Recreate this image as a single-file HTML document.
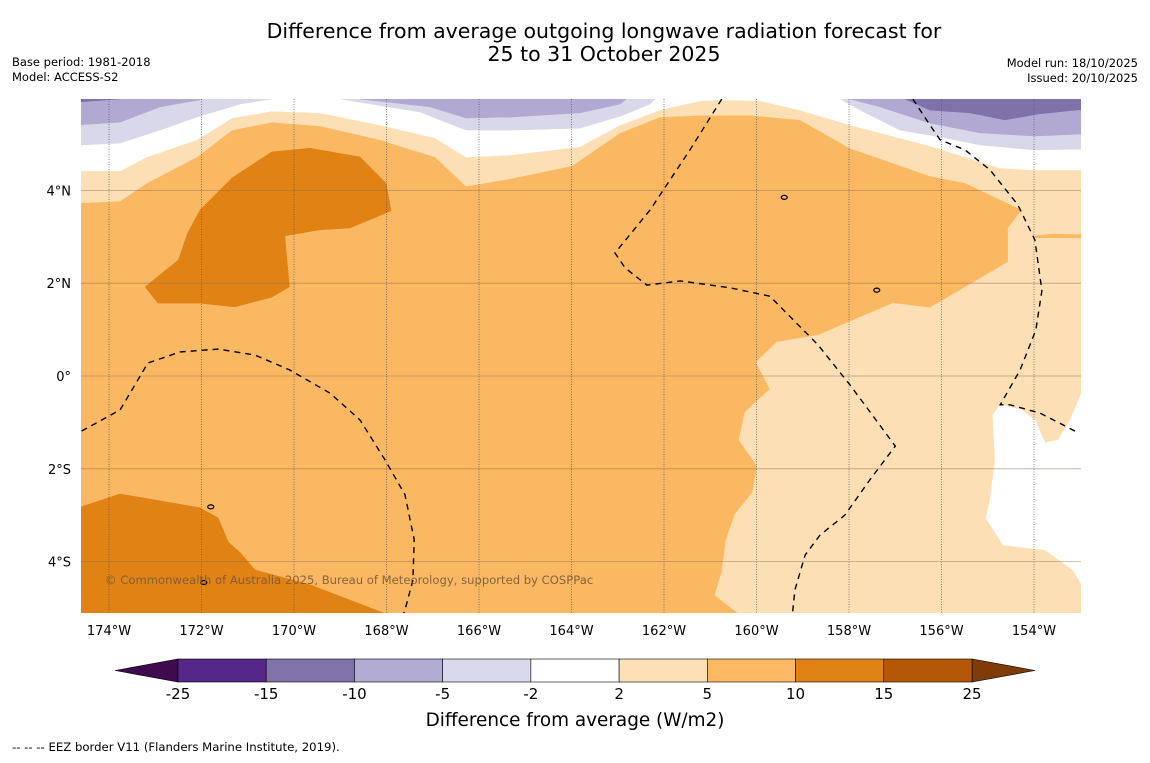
<!DOCTYPE html>
<html><head><meta charset="utf-8"><style>
body{margin:0;background:#fff;width:1150px;height:758px;overflow:hidden;font-family:"Liberation Sans","DejaVu Sans",sans-serif;}
svg text{font-family:"DejaVu Sans","Liberation Sans",sans-serif;}
</style></head><body>
<svg id="chart" width="1150" height="758" viewBox="0 0 1150 758" xmlns="http://www.w3.org/2000/svg">
<rect width="1150" height="758" fill="#fff"/>
<text x="604" y="38" font-size="20.5" text-anchor="middle">Difference from average outgoing longwave radiation forecast for</text>
<text x="604" y="61" font-size="20.5" text-anchor="middle">25 to 31 October 2025</text>
<text x="12" y="66" font-size="11.5">Base period: 1981-2018</text>
<text x="12" y="81" font-size="11.5">Model: ACCESS-S2</text>
<text x="1138" y="67" font-size="11.5" text-anchor="end">Model run: 18/10/2025</text>
<text x="1138" y="82" font-size="11.5" text-anchor="end">Issued: 20/10/2025</text>
<defs><clipPath id="mapclip"><rect x="81" y="99" width="1000" height="514"/></clipPath></defs>
<g id="map" clip-path="url(#mapclip)"></g>
<g id="axes"></g>
<g id="cbar"></g>
<text x="575" y="726" font-size="18.4" text-anchor="middle">Difference from average (W/m2)</text>
<text x="12" y="751" font-size="11.7">--  --  -- EEZ border V11 (Flanders Marine Institute, 2019).</text>
</svg>
<script>
const lonTicks=[-174,-172,-170,-168,-166,-164,-162,-160,-158,-156,-154];
const latTicks=[4,2,0,-2,-4];
const lonLabels=['174°W','172°W','170°W','168°W','166°W','164°W','162°W','160°W','158°W','156°W','154°W'];
const latLabels=['4°N','2°N','0°','2°S','4°S'];
const cbLevels=[-25,-15,-10,-5,-2,2,5,10,15,25];
const cbColors=['#542788','#8073ac','#b2abd2','#d8daeb','#ffffff','#fee0b6','#fdb863','#e08214','#b35806'];
const peachRegion=[[-175,6.2],[-175,3.73],[-174.6,3.73],[-173.76,3.77],[-173.18,4.16],[-172.1,4.72],[-171.34,5.3],[-170.48,5.47],[-169.44,5.39],[-168.14,5.09],[-166.95,4.72],[-166.28,4.09],[-165.33,4.25],[-163.99,4.53],[-163.71,4.72],[-162.95,5.24],[-162.09,5.58],[-161.22,5.62],[-160.14,5.62],[-159.06,5.52],[-157.98,4.91],[-156.25,4.31],[-155.49,4.16],[-154.26,3.58],[-154.56,3.19],[-154.56,2.46],[-156.25,1.47],[-157.05,1.57],[-158.67,0.88],[-159.56,0.73],[-160.01,0.3],[-159.71,-0.28],[-160.25,-0.78],[-160.38,-1.38],[-159.99,-1.94],[-160.08,-2.5],[-160.46,-2.97],[-160.66,-3.53],[-160.75,-4.22],[-160.9,-4.72],[-160.29,-5.2],[-152,-5.2],[-152,6.2]];
const whiteTop=[[-175,6.2],[-175,4.42],[-173.76,4.42],[-173.18,4.72],[-172.1,5.09],[-171.34,5.56],[-170.48,5.71],[-169.44,5.67],[-168.14,5.41],[-166.95,5.13],[-166.28,4.72],[-165.33,4.76],[-163.82,4.94],[-162.95,5.41],[-162.09,5.73],[-161.22,5.93],[-160.79,5.95],[-159.92,5.93],[-159.06,5.73],[-157.98,5.41],[-156.25,4.96],[-155.49,4.72],[-154.73,4.48],[-153.98,4.44],[-152,4.44],[-152,6.2]];
const lav5A=[[-175,6.2],[-175,4.96],[-173.76,5.02],[-172.9,5.3],[-172.1,5.58],[-171.17,5.86],[-170.48,5.97],[-169.87,6.2]];
const lav5B=[[-169,6.2],[-169,5.97],[-167.28,5.69],[-166.28,5.3],[-165.33,5.3],[-163.82,5.34],[-162.95,5.6],[-162.3,5.86],[-161.98,6.2]];
const lav5C=[[-158.19,6.2],[-158.19,5.97],[-157.76,5.73],[-156.9,5.3],[-156.03,5.15],[-155.17,4.98],[-153.98,4.87],[-152,4.91],[-152,6.2]];
const lav10A=[[-175,6.2],[-175,5.39],[-173.76,5.47],[-172.9,5.8],[-172.03,5.95],[-172.03,6.2]];
const lav10B=[[-168.57,6.2],[-168.57,5.97],[-167.06,5.8],[-166.28,5.56],[-165.33,5.58],[-163.82,5.67],[-162.95,5.86],[-162.52,6.2]];
const lav10C=[[-157.98,6.2],[-157.98,5.97],[-157.33,5.8],[-156.25,5.45],[-155.17,5.24],[-153.98,5.17],[-152,5.26],[-152,6.2]];
const lav15A=[[-175,6.2],[-175,5.88],[-173.76,5.97],[-173.76,6.2]];
const lav15B=[[-156.79,6.2],[-156.79,5.97],[-156.25,5.73],[-155.38,5.67],[-154.63,5.52],[-153.87,5.65],[-152,5.84],[-152,6.2]];
const darkBlob1=[[-173.22,1.92],[-172.9,2.18],[-172.5,2.5],[-172.3,3.08],[-172.03,3.58],[-171.34,4.27],[-170.48,4.83],[-169.65,4.91],[-168.57,4.72],[-168.01,4.16],[-167.9,3.56],[-168.79,3.19],[-169.44,3.15],[-170.2,3.02],[-170.1,1.92],[-170.48,1.7],[-171.28,1.49],[-172.03,1.57],[-172.94,1.57]];
const darkBlob2=[[-175,-2.82],[-174.6,-2.82],[-173.76,-2.54],[-172.03,-2.84],[-171.64,-3.06],[-171.42,-3.58],[-171.17,-3.8],[-170.84,-4.18],[-169.65,-4.5],[-167.82,-5.2],[-175,-5.2]];
const whiteRight=[[-152.9,-0.19],[-153.22,-0.95],[-153.48,-1.38],[-153.76,-1.44],[-153.98,-0.95],[-154.26,-0.73],[-154.73,-0.62],[-154.89,-0.84],[-154.84,-1.81],[-154.95,-2.67],[-155.04,-3.06],[-154.67,-3.64],[-153.76,-3.75],[-153.16,-4.18],[-152.9,-4.61]];
const orangeStrip=[[-153.98,3.02],[-153.6,3.06],[-152.9,3.04],[-152.9,2.98],[-153.98,2.98]];
const eez1=[[-174.8,-1.3],[-173.76,-0.73],[-173.16,0.28],[-172.46,0.52],[-171.64,0.58],[-170.84,0.45],[-170.09,0.13],[-169.22,-0.37],[-168.57,-0.95],[-168.03,-1.81],[-167.6,-2.56],[-167.4,-3.53],[-167.43,-4.4],[-167.6,-5.04],[-167.7,-5.3]];
const eez2=[[-160.75,5.97],[-161.44,4.87],[-162.3,3.58],[-163.06,2.65],[-162.84,2.33],[-162.37,1.96],[-161.65,2.05],[-160.57,1.9],[-159.71,1.72],[-158.67,0.67],[-157.98,-0.19],[-157.0,-1.51],[-157.55,-2.24],[-158.09,-3.0],[-158.63,-3.43],[-158.95,-3.86],[-159.17,-4.61],[-159.23,-5.2]];
const eez3=[[-156.62,5.97],[-156.25,5.41],[-156.03,5.09],[-155.49,4.87],[-154.95,4.44],[-154.35,3.69],[-153.98,2.93],[-153.83,1.84],[-153.96,0.99],[-154.3,0.13],[-154.73,-0.62],[-154.52,-0.62],[-153.87,-0.8],[-153.07,-1.21]];

const X0=109,XS=46.25,Y0=376,YS=46.4;
function xS(lon){return X0+(lon+174)*XS;}
function yS(lat){return Y0-lat*YS;}
const NS='http://www.w3.org/2000/svg';
function mk(tag,attrs,parent){const e=document.createElementNS(NS,tag);for(const k in attrs)e.setAttribute(k,attrs[k]);parent.appendChild(e);return e;}
function pts(a){return a.map(p=>xS(p[0]).toFixed(1)+','+yS(p[1]).toFixed(1)).join(' ');}
const map=document.getElementById('map');
const bg=mk('rect',{x:81,y:99,width:1000,height:514,fill:'#fbb862'},map);


const layers=[
 [peachRegion,'#fddfb5','contour-2-to-5'],
 [orangeStrip,'#fbb862','contour-5-to-10-strip'],
 [whiteTop,'#ffffff','contour-neutral-top'],
 [lav5A,'#d8d8ea','contour-minus5-to-minus2-a'],
 [lav5B,'#d8d8ea','contour-minus5-to-minus2-b'],
 [lav5C,'#d8d8ea','contour-minus5-to-minus2-c'],
 [lav10A,'#b1a9d2','contour-minus10-to-minus5-a'],
 [lav10B,'#b1a9d2','contour-minus10-to-minus5-b'],
 [lav10C,'#b1a9d2','contour-minus10-to-minus5-c'],
 [lav15A,'#7f72ab','contour-minus15-to-minus10-a'],
 [lav15B,'#7f72ab','contour-minus15-to-minus10-b'],
 [darkBlob1,'#e08214','contour-10-to-15-north'],
 [darkBlob2,'#e08214','contour-10-to-15-south'],
 [whiteRight,'#ffffff','contour-neutral-east']
];
layers.forEach(l=>{
 const p=mk('polygon',{points:pts(l[0]),fill:l[1],stroke:l[1],'stroke-width':0.5},map);
 
 
});
lonTicks.forEach((lon,i)=>{
 const g=mk('line',{x1:xS(lon),x2:xS(lon),y1:99,y2:613,stroke:'#555','stroke-width':0.7,'stroke-dasharray':'1,1.5'},map);
 
 
});
latTicks.forEach(lat=>{
 const g=mk('line',{x1:81,x2:1081,y1:yS(lat),y2:yS(lat),stroke:'#8a6a50','stroke-opacity':0.55,'stroke-width':0.8},map);
 
 
});
[eez1,eez2,eez3].forEach(a=>{
 const l=mk('polyline',{points:pts(a),fill:'none',stroke:'#000','stroke-width':1.4,'stroke-dasharray':'6,5'},map);
 
 
});
const isl=[[-159.4,3.85],[-157.4,1.85],[-171.8,-2.82],[-171.95,-4.45]];
isl.forEach(p=>{
 const e=mk('ellipse',{cx:xS(p[0]),cy:yS(p[1]),rx:3,ry:2,fill:'none',stroke:'#000','stroke-width':1.2},map);
 
 
});
const cp=mk('text',{x:105,y:584,'font-size':11.6,fill:'#7a5a3a','fill-opacity':0.9},map);
cp.textContent='© Commonwealth of Australia 2025, Bureau of Meteorology, supported by COSPPac';


const axes=document.getElementById('axes');
lonTicks.forEach((lon,i)=>{
 const t=mk('text',{x:xS(lon),y:635,'font-size':13,'text-anchor':'middle'},axes);
 t.textContent=lonLabels[i];
 
 
});
latTicks.forEach((lat,i)=>{
 const t=mk('text',{x:71,y:yS(lat)+5,'font-size':13,'text-anchor':'end'},axes);
 t.textContent=latLabels[i];
 
 
});
const cb=document.getElementById('cbar');
const cbX0=178,cbX1=972,cbT=659,cbB=682,n=cbColors.length,w=(cbX1-cbX0)/n;
const lt=mk('polygon',{points:`115,670.5 ${cbX0},${cbT} ${cbX0},${cbB}`,fill:'#3f0a4e',stroke:'#000','stroke-width':0.6},cb);


const rt=mk('polygon',{points:`1035,670.5 ${cbX1},${cbT} ${cbX1},${cbB}`,fill:'#7f3b08',stroke:'#000','stroke-width':0.6},cb);


cbColors.forEach((c,i)=>{
 const r=mk('rect',{x:cbX0+i*w,y:cbT,width:w,height:cbB-cbT,fill:c,stroke:'#000','stroke-width':0.6},cb);
 
 
});
cbLevels.forEach((v,i)=>{
 const t=mk('text',{x:cbX0+i*w,y:699,'font-size':15,'text-anchor':'middle'},cb);
 t.textContent=String(v);
 
 
});
</script>
</body></html>
